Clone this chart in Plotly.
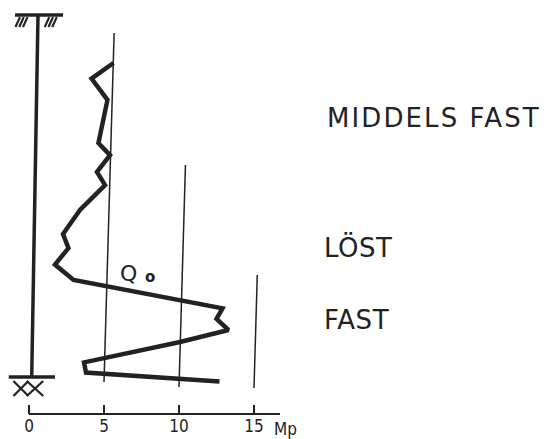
import plotly.graph_objects as go

# ---- data ----
# cone resistance Qo [Mp] versus depth (depth units: arbitrary, ~m)
qo_mp = [5.63, 4.17, 5.23, 4.63, 5.40, 4.53, 5.07, 3.93, 3.40, 2.27,
         2.63, 1.73, 2.97, 12.90, 12.50, 13.30, 10.07, 3.67, 3.80, 12.70]
depth = [1.60, 2.12, 2.83, 4.27, 4.67, 5.23, 5.67, 6.23, 6.50, 7.30,
         7.77, 8.32, 8.83, 9.78, 10.13, 10.50, 10.90, 11.58, 11.92, 12.22]

tick_vals = [0, 5, 10, 15]
tick_text = ["0", "5", "10", "15"]
unit_label = "Mp"

grid_vals = [5, 10, 15]
grid_top = [0.6, 5.0, 8.67]
grid_bottom = [12.23, 12.40, 12.43]

layer_labels = ["MIDDELS FAST", "LÖST", "FAST"]
layer_depths = [3.42, 7.75, 10.17]

INK = "#222222"
SKEW = 0.058  # slight tilt of the scanned drawing
NUM_FONT = "Liberation Sans Narrow, DejaVu Sans Condensed, DejaVu Sans"

fig = go.Figure()

fig.add_trace(go.Scatter(
    x=qo_mp, y=depth, mode="lines",
    line=dict(color=INK, width=4.5),
    hoverinfo="skip", showlegend=False))

shapes = []
# vertical reference lines at 5, 10, 15 Mp
for v, t, b in zip(grid_vals, grid_top, grid_bottom):
    shapes.append(dict(type="line", xref="x", yref="y",
                       x0=v, y0=b, x1=v + SKEW * (b - t), y1=t,
                       line=dict(color=INK, width=1.5)))

# pile sketch: shaft, ground cap with hatching, tip with crosses
shapes.append(dict(type="line", xref="x", yref="y", x0=0.6, y0=0.0, x1=0.18, y1=12.07,
                   line=dict(color=INK, width=3.5)))
shapes.append(dict(type="line", xref="x", yref="y", x0=-0.93, y0=0.0, x1=2.27, y1=0.0,
                   line=dict(color=INK, width=3.5)))
for start in (-0.9, 1.05):
    for i in range(3):
        x0 = start + i * 0.25
        shapes.append(dict(type="line", xref="x", yref="y",
                           x0=x0, y0=0.4, x1=x0 + 0.3, y1=0.07,
                           line=dict(color=INK, width=2.2)))
shapes.append(dict(type="line", xref="x", yref="y", x0=-1.35, y0=12.07, x1=1.73, y1=12.07,
                   line=dict(color=INK, width=3.5)))
for xl, xr in ((-1.04, -0.04), (-0.15, 0.95)):
    shapes.append(dict(type="line", xref="x", yref="y", x0=xl, y0=12.2, x1=xr, y1=12.7,
                       line=dict(color=INK, width=2.2)))
    shapes.append(dict(type="line", xref="x", yref="y", x0=xl, y0=12.7, x1=xr, y1=12.2,
                       line=dict(color=INK, width=2.2)))

# horizontal scale line
shapes.append(dict(type="line", xref="x", yref="paper", x0=0, y0=0, x1=16.73, y1=0,
                   line=dict(color=INK, width=2.2)))

annotations = []
big_font = dict(family="DejaVu Sans", size=26, color=INK)
label_x = {"MIDDELS FAST": 19.75, "LÖST": 19.55, "FAST": 19.5}
label_spacing = {"MIDDELS FAST": 2.1, "LÖST": 0.5, "FAST": 0.6}
for lab, d in zip(layer_labels, layer_depths):
    annotations.append(dict(xref="x", yref="y", x=label_x[lab], y=d,
                            text='<span style="letter-spacing:%spx">%s</span>' % (label_spacing[lab], lab),
                            showarrow=False,
                            xanchor="left", yanchor="middle", font=big_font))
annotations.append(dict(xref="x", yref="y", x=5.9, y=8.6, text="Q", showarrow=False,
                        xanchor="left", yanchor="middle",
                        font=dict(family="DejaVu Sans", size=22, color=INK)))
annotations.append(dict(xref="x", yref="y", x=7.6, y=8.72, text="<b>o</b>", showarrow=False,
                        xanchor="left", yanchor="middle",
                        font=dict(family="DejaVu Sans", size=15, color=INK)))
annotations.append(dict(xref="x", yref="paper", x=16.2, y=-0.036, text=unit_label,
                        showarrow=False, xanchor="left", yanchor="middle",
                        font=dict(family=NUM_FONT, size=17, color=INK)))

# page body adds an 8 px offset, so the figure is 8 px smaller and ranges start 8 px in
fig.update_layout(
    width=541, height=431,
    margin=dict(l=0, r=0, t=0, b=25),
    paper_bgcolor="white", plot_bgcolor="white",
    shapes=shapes, annotations=annotations,
    xaxis=dict(range=[(8 - 29) / 15, 520 / 15], showgrid=False, zeroline=False,
               showline=False, tickmode="array", tickvals=tick_vals, ticktext=tick_text,
               ticks="inside", ticklen=9, tickwidth=2, tickcolor=INK,
               tickfont=dict(family=NUM_FONT, size=17, color=INK)),
    yaxis=dict(range=[(414 - 15) / 30, (8 - 15) / 30], visible=False),
)

fig.write_html("out.html")
